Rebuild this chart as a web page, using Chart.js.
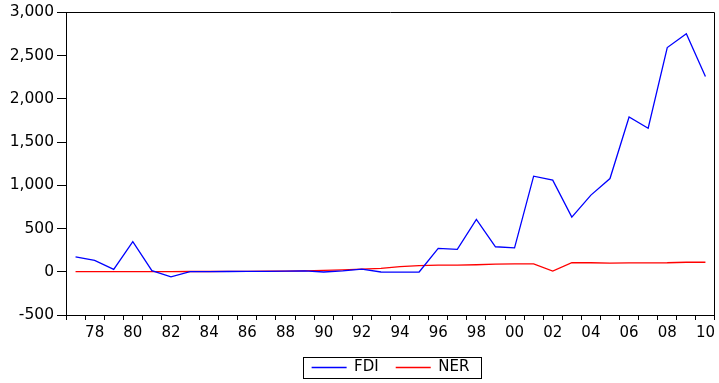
<!DOCTYPE html>
<html>
<head>
<meta charset="utf-8">
<script src="https://cdn.jsdelivr.net/npm/chart.js@4/dist/chart.umd.min.js"></script>
<style>
html,body{margin:0;padding:0;background:#fff;}
canvas{display:block;}
</style>
</head>
<body>
<canvas id="c" width="719" height="383"></canvas>
<script>
const years = ['1977','1978','1979','1980','1981','1982','1983','1984','1985','1986','1987','1988','1989','1990','1991','1992','1993','1994','1995','1996','1997','1998','1999','2000','2001','2002','2003','2004','2005','2006','2007','2008','2009','2010'];
const fdi = [173,131,27,347,12,-58,2,2,3,4,5,8,10,-3,10,30,-3,-5,-3,270,258,605,289,277,1105,1059,632,886,1078,1790,1660,2592,2753,2257];
const ner = [1,1,1,1,1,2,3,3,4,5,6,7,10,15,22,31,38,60,72,77,77,81,88,92,92,8,104,104,100,103,103,104,110,110];
const yTicks = [-500,0,500,1000,1500,2000,2500,3000];

const FAM = '"DejaVu Sans", sans-serif';

const framePlugin = {
  id:'frame',
  afterDraw(chart){
    const {ctx, chartArea:a} = chart;
    ctx.save();
    ctx.strokeStyle = '#000';
    ctx.lineWidth = 1;
    ctx.beginPath();
    ctx.moveTo(Math.round(a.left)+0.5, Math.round(a.top)+0.5);
    ctx.lineTo(Math.round(a.right)-0.5, Math.round(a.top)+0.5);
    ctx.lineTo(Math.round(a.right)-0.5, Math.round(a.bottom)+0.5);
    ctx.stroke();
    const lg = chart.legend;
    if (lg && lg.legendHitBoxes && lg.legendHitBoxes.length){
      const hb = lg.legendHitBoxes;
      let l = Infinity, r = -Infinity, t = Infinity, b = -Infinity;
      hb.forEach(h=>{l=Math.min(l,h.left);r=Math.max(r,h.left+h.width);t=Math.min(t,h.top);b=Math.max(b,h.top+h.height);});
      ctx.strokeRect(Math.round(l-9)+0.5, Math.round(t-3)+0.5, Math.round(r-l+20), Math.round(b-t+6));
    }
    ctx.restore();
  }
};

new Chart(document.getElementById('c'), {
  type:'line',
  data:{
    labels: years,
    datasets:[
      {label:'FDI', data:fdi, borderColor:'#0000ff', backgroundColor:'#0000ff', borderWidth:1.3, pointRadius:0, tension:0},
      {label:'NER', data:ner, borderColor:'#ff0000', backgroundColor:'#ff0000', borderWidth:1.3, pointRadius:0, tension:0}
    ]
  },
  options:{
    responsive:false,
    animation:false,
    layout:{padding:{left:0,right:2,top:4,bottom:-2}},
    plugins:{
      tooltip:{enabled:false},
      legend:{
        position:'bottom',
        fullSize:false,
        labels:{
          font:{family:FAM, size:15}, color:'#000',
          usePointStyle:true, pointStyle:'line', pointStyleWidth:35,
          boxHeight:14, padding:17
        }
      }
    },
    scales:{
      x:{
        type:'category',
        offset:true,
        afterFit:(s)=>{ s.height = 28; },
        border:{display:true,color:'#000',width:1},
        grid:{offset:true, drawOnChartArea:false, drawTicks:true, tickLength:5, color:'#000'},
        ticks:{autoSkip:false, maxRotation:0, minRotation:0, font:{family:FAM, size:15}, color:'#000', padding:4,
          callback:(v,i)=> (i%2===1 ? years[i].slice(2) : '')}
      },
      y:{
        min:-500, max:3000,
        afterFit:(s)=>{ s.width = 66; },
        afterBuildTicks:(s)=>{ s.ticks = yTicks.map(v=>({value:v})); },
        border:{display:true,color:'#000',width:1},
        grid:{drawOnChartArea:false, drawTicks:true, tickLength:9, color:'#000'},
        ticks:{font:{family:FAM, size:15.5}, color:'#000', padding:3,
          callback:(v)=> v.toLocaleString('en-US')}
      }
    }
  },
  plugins:[framePlugin]
});
</script>
</body>
</html>
